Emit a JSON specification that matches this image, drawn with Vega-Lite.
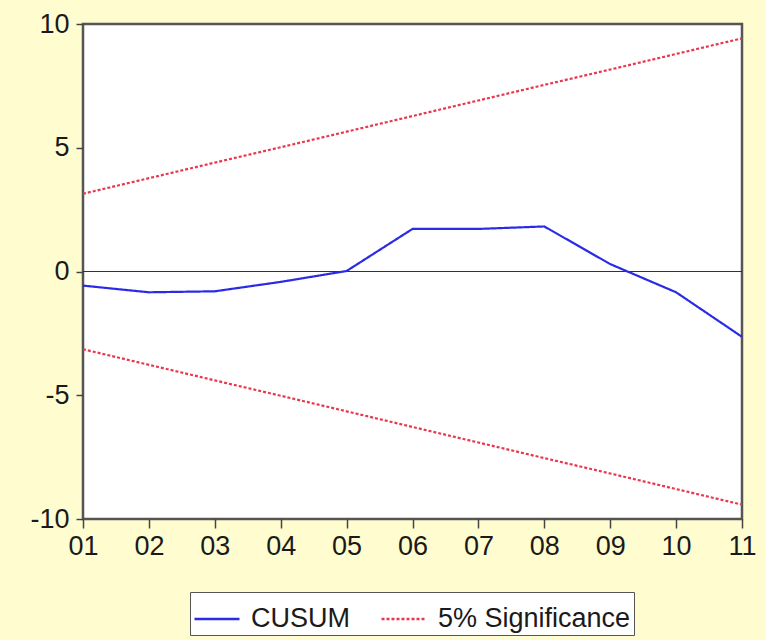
{
  "$schema": "https://vega.github.io/schema/vega-lite/v6.json",
  "width": 659,
  "height": 495,
  "autosize": {"type": "none"},
  "padding": {"left": 83, "top": 24, "right": 24, "bottom": 121},
  "background": "#FFFDD0",
  "config": {
    "font": "Liberation Sans",
    "view": {"stroke": "#555555", "strokeWidth": 2.5, "fill": "white"}
  },
  "data": {
    "values": [
      {"t": "01", "value": -0.57, "series": "CUSUM", "band": "cusum"},
      {"t": "02", "value": -0.84, "series": "CUSUM", "band": "cusum"},
      {"t": "03", "value": -0.80, "series": "CUSUM", "band": "cusum"},
      {"t": "04", "value": -0.42, "series": "CUSUM", "band": "cusum"},
      {"t": "05", "value": 0.02, "series": "CUSUM", "band": "cusum"},
      {"t": "06", "value": 1.72, "series": "CUSUM", "band": "cusum"},
      {"t": "07", "value": 1.72, "series": "CUSUM", "band": "cusum"},
      {"t": "08", "value": 1.82, "series": "CUSUM", "band": "cusum"},
      {"t": "09", "value": 0.30, "series": "CUSUM", "band": "cusum"},
      {"t": "10", "value": -0.84, "series": "CUSUM", "band": "cusum"},
      {"t": "11", "value": -2.64, "series": "CUSUM", "band": "cusum"},
      {"t": "01", "value": 3.14, "series": "5% Significance", "band": "upper"},
      {"t": "02", "value": 3.77, "series": "5% Significance", "band": "upper"},
      {"t": "03", "value": 4.40, "series": "5% Significance", "band": "upper"},
      {"t": "04", "value": 5.02, "series": "5% Significance", "band": "upper"},
      {"t": "05", "value": 5.65, "series": "5% Significance", "band": "upper"},
      {"t": "06", "value": 6.28, "series": "5% Significance", "band": "upper"},
      {"t": "07", "value": 6.91, "series": "5% Significance", "band": "upper"},
      {"t": "08", "value": 7.54, "series": "5% Significance", "band": "upper"},
      {"t": "09", "value": 8.16, "series": "5% Significance", "band": "upper"},
      {"t": "10", "value": 8.79, "series": "5% Significance", "band": "upper"},
      {"t": "11", "value": 9.42, "series": "5% Significance", "band": "upper"},
      {"t": "01", "value": -3.14, "series": "5% Significance", "band": "lower"},
      {"t": "02", "value": -3.77, "series": "5% Significance", "band": "lower"},
      {"t": "03", "value": -4.40, "series": "5% Significance", "band": "lower"},
      {"t": "04", "value": -5.02, "series": "5% Significance", "band": "lower"},
      {"t": "05", "value": -5.65, "series": "5% Significance", "band": "lower"},
      {"t": "06", "value": -6.28, "series": "5% Significance", "band": "lower"},
      {"t": "07", "value": -6.91, "series": "5% Significance", "band": "lower"},
      {"t": "08", "value": -7.54, "series": "5% Significance", "band": "lower"},
      {"t": "09", "value": -8.16, "series": "5% Significance", "band": "lower"},
      {"t": "10", "value": -8.79, "series": "5% Significance", "band": "lower"},
      {"t": "11", "value": -9.42, "series": "5% Significance", "band": "lower"}
    ]
  },
  "layer": [
    {
      "mark": {"type": "rule", "color": "#333333", "strokeWidth": 1},
      "encoding": {
        "y": {"datum": 0, "type": "quantitative"}
      }
    },
    {
      "mark": {"type": "line", "strokeWidth": 2.2},
      "encoding": {
        "x": {
          "field": "t",
          "type": "ordinal",
          "scale": {"type": "point", "padding": 0},
          "axis": {
            "title": null,
            "labelAngle": 0,
            "domain": false,
            "labelFontSize": 27,
            "labelColor": "#1a1a1a",
            "labelPadding": 5,
            "tickSize": 9,
            "tickColor": "#444444",
            "tickWidth": 1.5
          }
        },
        "y": {
          "field": "value",
          "type": "quantitative",
          "scale": {"domain": [-10, 10], "nice": false, "zero": false},
          "axis": {
            "title": null,
            "values": [-10, -5, 0, 5, 10],
            "grid": false,
            "domain": false,
            "labelExpr": "'' + datum.value",
            "labelFontSize": 27,
            "labelColor": "#1a1a1a",
            "labelPadding": 7,
            "tickSize": 7,
            "tickColor": "#444444",
            "tickWidth": 1.5
          }
        },
        "color": {
          "field": "series",
          "type": "nominal",
          "scale": {"domain": ["CUSUM", "5% Significance"], "range": ["#2B2BE6", "#E8384F"]},
          "legend": {
            "title": null,
            "orient": "none",
            "legendX": 107,
            "legendY": 568,
            "direction": "horizontal",
            "symbolType": "stroke",
            "symbolSize": 2025,
            "symbolStrokeWidth": 2.5,
            "labelFontSize": 27,
            "labelLimit": 400,
            "labelColor": "#1a1a1a",
            "labelOffset": 10,
            "columnPadding": 26,
            "padding": 3,
            "fillColor": "white",
            "strokeColor": "#555555"
          }
        },
        "strokeDash": {
          "field": "series",
          "type": "nominal",
          "scale": {"domain": ["CUSUM", "5% Significance"], "range": [[1, 0], [3, 2]]},
          "legend": {
            "title": null,
            "orient": "none",
            "legendX": 107,
            "legendY": 568,
            "direction": "horizontal",
            "symbolType": "stroke",
            "symbolSize": 2025,
            "symbolStrokeWidth": 2.5,
            "labelFontSize": 27,
            "labelLimit": 400,
            "labelColor": "#1a1a1a",
            "labelOffset": 10,
            "columnPadding": 26,
            "padding": 3,
            "fillColor": "white",
            "strokeColor": "#555555"
          }
        },
        "detail": {"field": "band", "type": "nominal"}
      }
    }
  ]
}
